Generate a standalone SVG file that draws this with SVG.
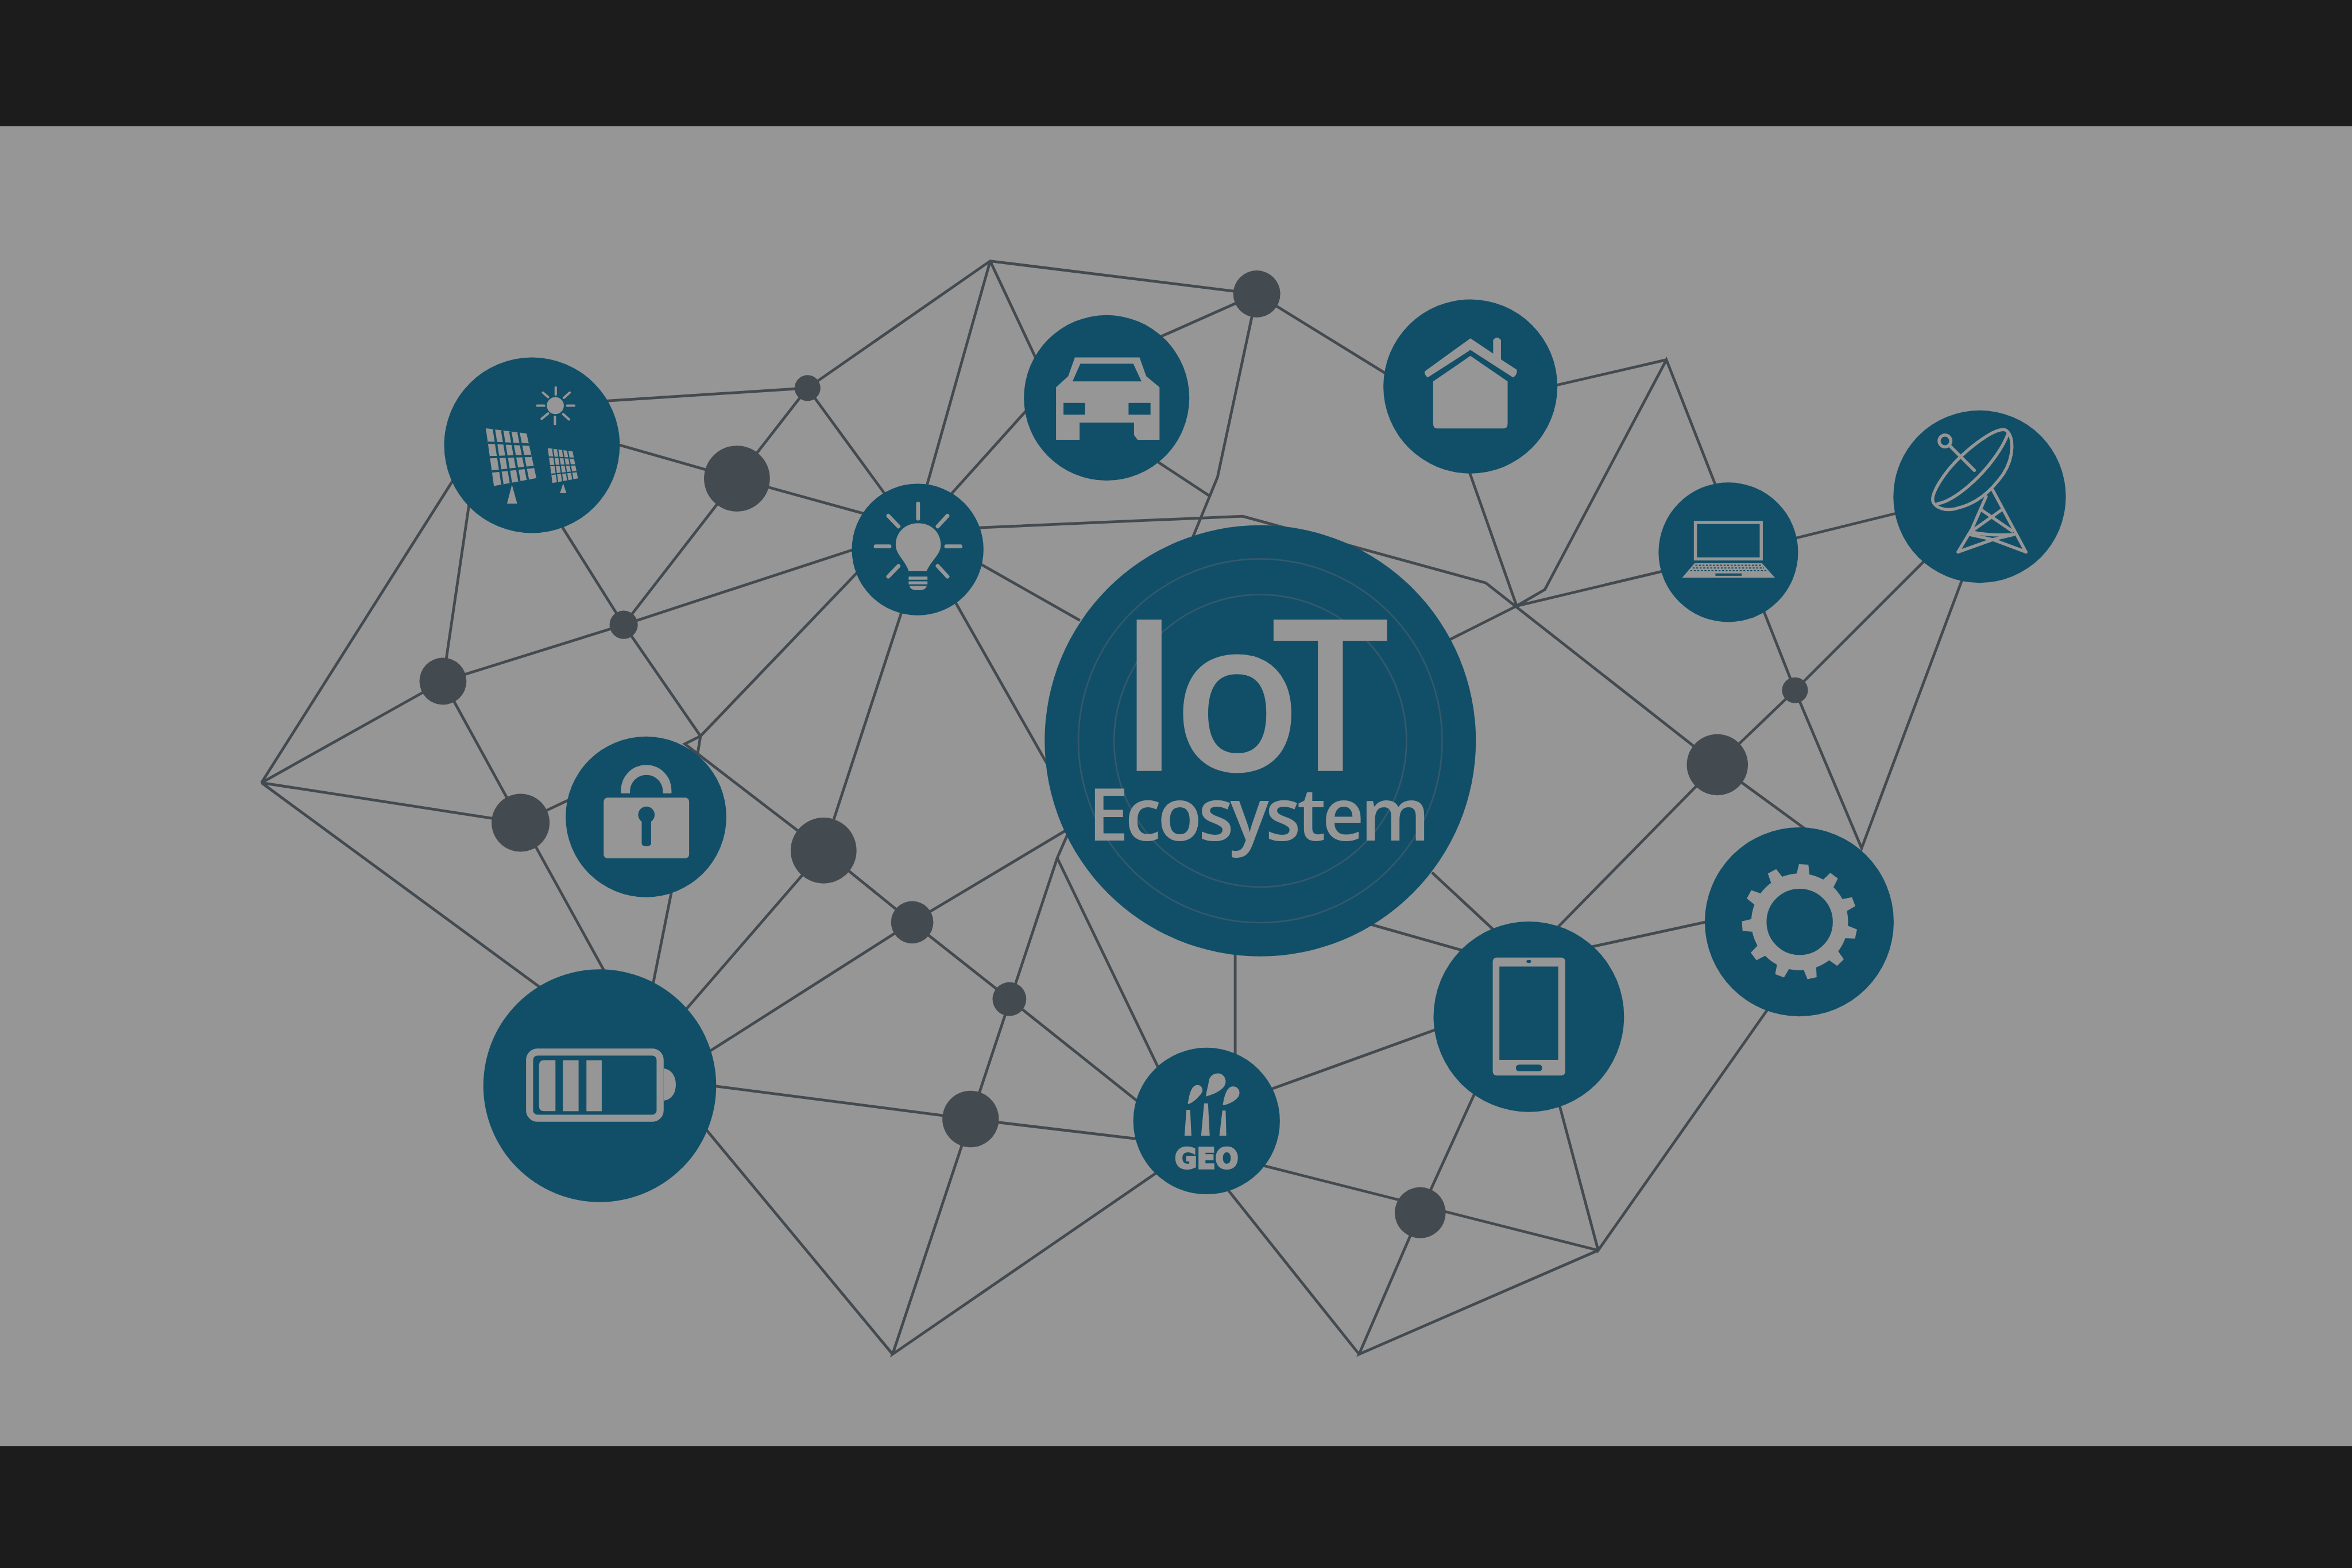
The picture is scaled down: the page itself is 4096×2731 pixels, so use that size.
<svg xmlns="http://www.w3.org/2000/svg" xmlns:xlink="http://www.w3.org/1999/xlink" width="4096" height="2731" viewBox="0 0 4096 2731">
<style>
.e{fill:none;stroke:#434a50;stroke-width:7;stroke-linejoin:miter}
.t{fill:#114f68}
.d{fill:#434a50}
.i{fill:#969696}
.c{fill:#114f68}
.r{fill:none;stroke:#969696;stroke-linecap:round}
.g{fill:none;stroke:#114f68}
.ring{fill:none;stroke:#34596d;stroke-width:4}
.txt{fill:#969696;font-family:"Open Sans","Liberation Sans",sans-serif;font-weight:600}
</style>
<defs>
<path id="tooth" class="i" d="M-17,-118 L-12,-147 H12 L17,-118Z"/>
</defs>
<rect width="4096" height="2731" fill="#1c1c1c"/>
<rect y="220" width="4096" height="2299" fill="#969696"/>
<g transform="scale(0.68267)">
<g id="connectors">
<path class="e" d="M3206,750L2526,666L2060,990M2526,666L2350,1290M2526,666L2664,960"/>
<path class="e" d="M2920,877L3206,750L3600,993M3206,750L3106,1217L3039,1380M2900,1143L3085,1265"/>
<path class="e" d="M2400,1290L2650,1012"/>
<path class="e" d="M1500,1026L2060,990L1880,1221M1540,1124L1880,1221L2260,1326M2060,990L2290,1305"/>
<path class="e" d="M1400,1290L1591,1594L1880,1221M1591,1594L2260,1375M1591,1594L1130,1738M1591,1594L1787,1878"/>
<path class="e" d="M1202,1250L1130,1738L667,1997L1178,1190M667,1997L1328,2099M667,1997L1420,2550M1130,1738L1328,2099M1333,2099L1565,2520M1328,2099L1470,2032M1728,2200L1660,2540"/>
<path class="e" d="M2240,1405L1787,1878L1747,1898L2101,2170L2327,2353L2575,2549L2930,2832M1787,1878L1780,1921"/>
<path class="e" d="M2320,1500L2101,2170L1720,2610M2327,2353L1790,2695M2327,2353L2725,2115"/>
<path class="e" d="M2361,1402L2670,1947M2480,1427L2755,1583"/>
<path class="e" d="M2480,1347L3170,1317L3790,1487L4381,1951"/>
<path class="e" d="M3680,1641L3869,1546L4260,1453M3740,1180L3869,1546L3941,1504L4251,918L4385,1260M3900,999L4251,918"/>
<path class="e" d="M4560,1378L4860,1304M4480,1510L4579,1761L4381,1951M4940,1400L4579,1761L4749,2164L5020,1440"/>
<path class="e" d="M4630,2133L4381,1951L3950,2390M4040,2420L4380,2346M4520,2560L4077,3190L3965,2770M3780,2750L3623,3094L3467,3455L4077,3190M3200,2968L4077,3190M3467,3455L3100,2995"/>
<path class="e" d="M3220,2787L3690,2617M3151,2400V2700M3460,2348L3760,2433M3653,2226L3840,2400"/>
<path class="e" d="M2725,2125L2697,2189L2277,3455L2975,2975M2697,2189L2965,2745"/>
<path class="e" d="M1800,2768L2476,2855L2920,2908M1775,2850L2277,3455"/>
</g>
<g id="dot-1"><circle class="d" cx="3206" cy="750" r="60"/></g>
<g id="dot-2"><circle class="d" cx="2060" cy="990" r="33"/></g>
<g id="dot-3"><circle class="d" cx="1880" cy="1221" r="84"/></g>
<g id="dot-4"><circle class="d" cx="1591" cy="1594" r="36"/></g>
<g id="dot-5"><circle class="d" cx="1130" cy="1738" r="60"/></g>
<g id="dot-6"><circle class="d" cx="1328" cy="2099" r="74"/></g>
<g id="dot-7"><circle class="d" cx="2101" cy="2170" r="84"/></g>
<g id="dot-8"><circle class="d" cx="2327" cy="2353" r="54"/></g>
<g id="dot-9"><circle class="d" cx="2575" cy="2549" r="43"/></g>
<g id="dot-10"><circle class="d" cx="2476" cy="2855" r="72"/></g>
<g id="dot-11"><circle class="d" cx="3623" cy="3094" r="65"/></g>
<g id="dot-12"><circle class="d" cx="4381" cy="1951" r="78"/></g>
<g id="dot-13"><circle class="d" cx="4579" cy="1761" r="33"/></g>

<g id="iot">
<circle class="c" cx="3215" cy="1890" r="550"/>
<circle class="ring" cx="3215" cy="1890" r="464"/>
<circle class="ring" cx="3215" cy="1890" r="373"/>
<text class="txt" x="2849 2991 3241" y="1967" font-size="541">IoT</text>
<text class="txt" x="2776" y="2144" font-size="185" letter-spacing="-9">Ecosystem</text>
</g>

<g id="solar">
<circle class="c" cx="1357" cy="1136" r="224"/>
<g transform="translate(1140,900) scale(0.33333)">
<polygon class="i" points="298,578 610,618 685,960 360,1020"/>
<path class="g" stroke-width="18" d="M360,586L425,1008M423,594L490,996M485,602L555,984M548,610L620,972M313,688L629,703M329,799L647,789M344,909L666,874"/>
<polygon class="i" points="772,730 962,755 1003,962 808,997"/>
<path class="g" stroke-width="10" d="M810,735L847,990M848,740L886,983M886,745L925,976M924,750L964,969M781,797L972,807M790,863L982,858M799,930L993,910"/>
<polygon class="i" points="498,1010 460,1155 538,1155"/>
<polygon class="i" points="890,1000 865,1075 915,1075"/>
<circle class="i" cx="830" cy="405" r="65"/>
<path class="r" stroke-width="18" d="M833,265V320M827,490V545M690,405H745M920,405H975M735,305L775,340M940,305L895,345M725,505L775,465M935,510L890,470"/>
</g>
</g>

<g id="car">
<circle class="c" cx="2823" cy="1015" r="211"/>
<path class="i" fill-rule="evenodd" d="M2742,912H2907L2924,960L2958,988V1122H2902L2893,1110V1078H2754V1122H2694V988L2725,960ZM2756,928L2736,973H2912L2891,928ZM2713,1028V1058H2768V1028ZM2879,1028V1058H2935V1028Z"/>
</g>

<g id="house">
<circle class="c" cx="3751" cy="986" r="222"/>
<path class="i" d="M3751,908L3846,973V1080Q3846,1093 3837,1093H3665Q3656,1093 3656,1080V973Z"/>
<path class="i" d="M3751,863L3809,902V868Q3819,855 3829,868V917L3869,943Q3872,955 3860,963L3751,893L3642,963Q3632,955 3635,947Z"/>
</g>

<g id="bulb">
<circle class="c" cx="2341" cy="1402" r="168"/>
<path class="i" d="M2318,1457C2310,1430 2285,1415 2285,1390C2285,1358 2310,1335 2342,1335C2375,1335 2400,1358 2400,1390C2400,1415 2375,1430 2364,1457Z"/>
<path class="i" d="M2318,1471H2366V1479H2318ZM2318,1483H2366V1491H2318ZM2320,1495H2364Q2362,1506 2342,1506Q2322,1506 2320,1495Z"/>
<path class="r" stroke-width="10" d="M2342,1285V1323M2234,1394H2269M2414,1394H2450M2266,1316L2292,1343M2417,1316L2392,1343M2266,1471L2292,1444M2417,1471L2392,1444"/>
</g>

<g id="laptop">
<circle class="c" cx="4409" cy="1409" r="178"/>
<rect x="4325" y="1333" width="168" height="93" fill="none" stroke="#969696" stroke-width="8"/>
<polygon class="i" points="4323,1437 4495,1437 4528,1474 4291,1474"/>
<path class="g" stroke-width="3" stroke-dasharray="5 4" d="M4325,1442H4493M4318,1449H4500M4312,1456H4506"/>
<rect class="t" x="4376" y="1463" width="67" height="6"/>
</g>

<g id="dish">
<circle class="c" cx="5050" cy="1267" r="220"/>
<g transform="translate(4800,1030) scale(0.33333)">
<path class="r" stroke-width="24" d="M395,755C370,700 470,530 610,400C740,280 900,170 955,205C1010,250 1020,400 930,540C830,680 720,770 560,805C490,820 420,800 395,755Z"/>
<path class="r" stroke-width="24" d="M430,765C520,750 640,660 740,560C840,460 930,330 965,235"/>
<circle class="r" cx="485" cy="285" r="45" stroke-width="24"/>
<path class="r" stroke-width="24" d="M520,320L710,510"/>
<path class="r" stroke-width="24" stroke-linejoin="round" d="M800,710L690,960L585,1135L850,1040L1105,1135L850,660"/>
<path class="r" stroke-width="24" d="M665,1000L850,1040L1020,1000Q850,1015 700,985M760,810L1000,975M915,815L690,975"/>
</g>
</g>

<g id="gear">
<circle class="c" cx="4590" cy="2352" r="241"/>
<circle cx="4591" cy="2352" r="104" fill="none" stroke="#969696" stroke-width="39"/>
<g transform="translate(4591,2352)">
<use href="#tooth" xlink:href="#tooth" transform="rotate(4)"/>
<use href="#tooth" xlink:href="#tooth" transform="rotate(36.7)"/>
<use href="#tooth" xlink:href="#tooth" transform="rotate(69.5)"/>
<use href="#tooth" xlink:href="#tooth" transform="rotate(102.2)"/>
<use href="#tooth" xlink:href="#tooth" transform="rotate(134.9)"/>
<use href="#tooth" xlink:href="#tooth" transform="rotate(167.6)"/>
<use href="#tooth" xlink:href="#tooth" transform="rotate(200.4)"/>
<use href="#tooth" xlink:href="#tooth" transform="rotate(233.1)"/>
<use href="#tooth" xlink:href="#tooth" transform="rotate(265.8)"/>
<use href="#tooth" xlink:href="#tooth" transform="rotate(298.5)"/>
<use href="#tooth" xlink:href="#tooth" transform="rotate(331.3)"/>
</g>
</g>

<g id="phone">
<circle class="c" cx="3900" cy="2594" r="243"/>
<rect class="i" x="3808" y="2443" width="185" height="301" rx="10"/>
<rect class="t" x="3825" y="2466" width="150" height="238"/>
<ellipse class="t" cx="3900" cy="2453" rx="6" ry="4"/>
<rect class="t" x="3867" y="2716" width="67" height="17" rx="8"/>
</g>

<g id="geo">
<circle class="c" cx="3078" cy="2860" r="187"/>
<g transform="translate(2850,2640) scale(0.33333)">
<polygon class="i" points="530,575 558,575 568,772 515,772"/>
<polygon class="i" points="665,525 695,525 708,772 642,772"/>
<polygon class="i" points="805,580 830,580 835,772 782,772"/>
<path class="i" d="M540,530C550,480 560,385 615,385C650,385 665,430 640,455C610,490 570,530 540,530Z"/>
<path class="i" d="M680,472C680,440 695,400 702,350C710,310 745,295 770,295C815,295 838,340 828,375C815,425 730,460 680,472Z"/>
<path class="i" d="M808,540C815,500 830,395 885,395C925,395 945,430 932,465C915,505 850,535 808,540Z"/>
</g>
<text x="3078" y="2981" text-anchor="middle" font-family="'DejaVu Sans',sans-serif" font-weight="700" font-size="72" fill="#969696" stroke="#969696" stroke-width="5" textLength="162" lengthAdjust="spacingAndGlyphs">GEO</text>
</g>

<g id="battery">
<circle class="c" cx="1530" cy="2770" r="297"/>
<rect x="1351" y="2684" width="333" height="169" rx="20" fill="none" stroke="#969696" stroke-width="18"/>
<path class="i" d="M1693,2726C1712,2728 1724,2745 1724,2767C1724,2790 1712,2806 1693,2808Z"/>
<path class="i" d="M1388,2705H1417V2835H1388Q1375,2835 1375,2822V2718Q1375,2705 1388,2705Z"/>
<rect class="i" x="1436" y="2705" width="40" height="130"/>
<rect class="i" x="1496" y="2705" width="39" height="130"/>
</g>

<g id="lock">
<circle class="c" cx="1648" cy="2084" r="205"/>
<rect class="i" x="1540" y="2035" width="218" height="155" rx="10"/>
<path class="i" d="M1584,2024V2016A64.5,64.5 0 0 1 1713,2016V2024H1691V2019A42,42 0 0 0 1607,2019V2024Z"/>
<path class="t" d="M1637,2096A21,21 0 1 1 1661,2096V2152Q1661,2159 1649,2159Q1637,2159 1637,2152Z"/>
</g>
</g>
</svg>
